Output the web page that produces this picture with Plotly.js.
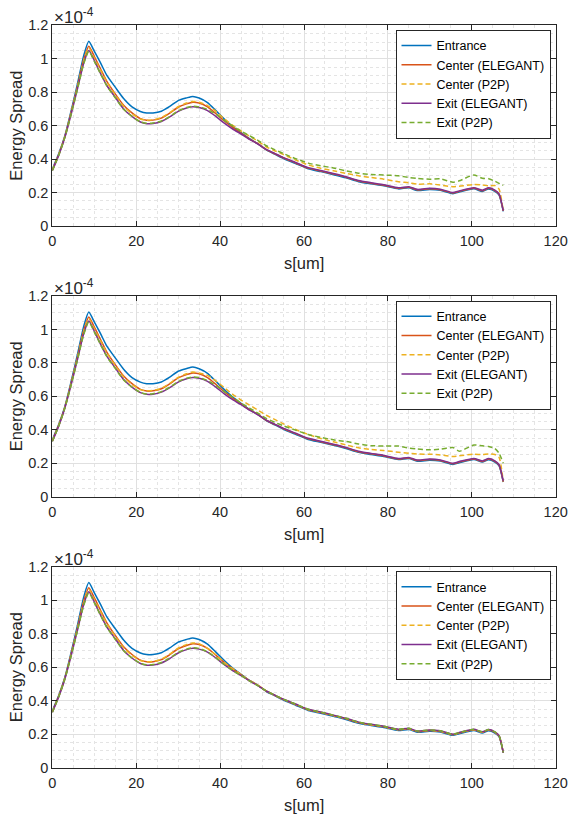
<!DOCTYPE html>
<html>
<head>
<meta charset="utf-8">
<script src="https://cdn.plot.ly/plotly-3.0.1.min.js"></script>
<style>html,body{margin:0;padding:0;background:#fff;}#chart{width:571px;height:816px;}</style>
</head>
<body>
<div id="chart"></div>
<script>
// s [um]
const s = [0,1.5,3,4.5,6,7.5,8.7,10,11.5,13,15,17,19,21,22.5,24,26,28,30,32,33.5,35,
  37,39,41,43,45,47,49,51,53,55,58,61,64,67,70,
  73,76,79,82.5,85,87,90,92.5,95.5,97,100.5,102.5,104,105.5,106.5,107.5];

// Energy spread (x1e-4) - ELEGANT results, shared by all panels
const entrance = [0.34,0.43,0.54,0.69,0.85,1.02,1.105,1.045,0.975,0.9,0.83,0.762,0.712,0.685,0.676,0.676,0.686,0.715,0.75,0.766,0.775,0.765,
  0.738,0.69,0.64,0.595,0.558,0.522,0.492,0.455,0.43,0.405,0.373,0.342,0.325,0.307,0.288,
  0.265,0.252,0.24,0.222,0.228,0.212,0.218,0.213,0.193,0.203,0.222,0.207,0.221,0.207,0.185,0.088];
const centerElegant = [0.335,0.425,0.535,0.68,0.835,0.995,1.075,1.015,0.94,0.865,0.79,0.722,0.676,0.642,0.632,0.633,0.645,0.675,0.71,0.73,0.74,0.735,
  0.712,0.672,0.628,0.59,0.555,0.52,0.492,0.457,0.432,0.408,0.377,0.346,0.329,0.311,0.292,
  0.269,0.256,0.244,0.226,0.232,0.216,0.222,0.217,0.197,0.207,0.226,0.211,0.225,0.211,0.189,0.09];
const exitElegant = [0.33,0.42,0.53,0.67,0.82,0.975,1.05,0.99,0.912,0.84,0.77,0.7,0.655,0.622,0.612,0.613,0.625,0.652,0.685,0.705,0.713,0.708,
  0.69,0.655,0.615,0.58,0.55,0.518,0.49,0.458,0.434,0.41,0.38,0.349,0.332,0.314,0.295,
  0.272,0.259,0.247,0.229,0.235,0.219,0.225,0.22,0.2,0.21,0.229,0.214,0.228,0.214,0.192,0.092];

// P2P results, panel 1
const centerP2P_1 = [0.335,0.425,0.535,0.678,0.83,0.99,1.065,1.005,0.932,0.86,0.785,0.716,0.671,0.64,0.633,0.635,0.648,0.678,0.713,0.735,0.745,0.74,
  0.72,0.685,0.64,0.602,0.568,0.537,0.507,0.473,0.45,0.428,0.395,0.365,0.345,0.33,0.315,
  0.3,0.29,0.28,0.265,0.258,0.25,0.252,0.245,0.235,0.238,0.248,0.245,0.24,0.242,0.22,0.09];
const exitP2P_1 = [0.33,0.42,0.53,0.668,0.818,0.97,1.045,0.985,0.91,0.837,0.767,0.698,0.655,0.623,0.614,0.616,0.628,0.655,0.688,0.708,0.716,0.712,
  0.697,0.668,0.632,0.598,0.567,0.54,0.512,0.48,0.457,0.434,0.403,0.376,0.36,0.347,0.33,
  0.316,0.308,0.305,0.3,0.29,0.284,0.28,0.282,0.262,0.27,0.305,0.285,0.283,0.268,0.255,0.243];
// P2P results, panel 2
const centerP2P_2 = [0.335,0.425,0.535,0.678,0.83,0.99,1.065,1.005,0.932,0.86,0.785,0.716,0.671,0.64,0.633,0.635,0.648,0.678,0.713,0.735,0.745,0.74,
  0.725,0.692,0.652,0.612,0.578,0.548,0.518,0.487,0.462,0.437,0.402,0.372,0.348,0.328,0.31,
  0.292,0.283,0.276,0.266,0.26,0.255,0.254,0.25,0.24,0.245,0.254,0.252,0.256,0.252,0.235,0.09];
const exitP2P_2 = [0.33,0.42,0.53,0.668,0.818,0.97,1.045,0.985,0.91,0.837,0.767,0.698,0.655,0.623,0.614,0.616,0.628,0.655,0.688,0.708,0.716,0.712,
  0.695,0.665,0.628,0.594,0.56,0.53,0.5,0.468,0.445,0.425,0.398,0.372,0.355,0.34,0.33,
  0.315,0.305,0.303,0.303,0.29,0.285,0.28,0.284,0.294,0.272,0.309,0.304,0.3,0.288,0.26,0.2];
// P2P results, panel 3
const centerP2P_3 = [0.335,0.425,0.535,0.678,0.83,0.99,1.065,1.005,0.932,0.86,0.785,0.716,0.671,0.64,0.633,0.635,0.648,0.678,0.713,0.735,0.745,0.74,
  0.712,0.674,0.629,0.591,0.556,0.521,0.493,0.458,0.433,0.409,0.378,0.347,0.33,0.312,0.293,
  0.27,0.257,0.245,0.227,0.233,0.217,0.223,0.218,0.198,0.208,0.227,0.212,0.226,0.212,0.19,0.091];
const exitP2P_3 = [0.33,0.42,0.53,0.668,0.818,0.97,1.045,0.985,0.91,0.837,0.767,0.698,0.655,0.623,0.614,0.616,0.628,0.655,0.688,0.708,0.716,0.712,
  0.692,0.657,0.616,0.58,0.55,0.518,0.49,0.458,0.434,0.41,0.38,0.349,0.332,0.314,0.295,
  0.272,0.259,0.247,0.229,0.235,0.219,0.225,0.22,0.2,0.21,0.229,0.214,0.228,0.214,0.192,0.092];

const seriesNames = ['Entrance','Center (ELEGANT)','Center (P2P)','Exit (ELEGANT)','Exit (P2P)'];
const seriesColors = ['#0072BD','#D95319','#EDB120','#7E2F8E','#77AC30'];
const seriesDash = ['solid','solid','5px,3px','solid','5px,3px'];
const xTitle = 's[um]';
const yTitle = 'Energy Spread';

const panels = [
  [entrance, centerElegant, centerP2P_1, exitElegant, exitP2P_1],
  [entrance, centerElegant, centerP2P_2, exitElegant, exitP2P_2],
  [entrance, centerElegant, centerP2P_3, exitElegant, exitP2P_3]
];

const W = 571, H = 816;
const FONT = 'Arial, "Liberation Sans", Helvetica, sans-serif';
const axLeft = 52.3, axRight = 555.7;
const axTops = [25.3, 296, 566.7], axBottoms = [226, 496.7, 767.7];

const traces = [];
panels.forEach((ser, p) => {
  const sfx = p === 0 ? '' : String(p + 1);
  ser.forEach((ys, i) => {
    traces.push({
      x: s, y: ys, type: 'scatter', mode: 'lines',
      name: seriesNames[i],
      xaxis: 'x' + sfx, yaxis: 'y' + sfx,
      legend: 'legend' + sfx,
      line: {color: seriesColors[i], width: 1.5, dash: seriesDash[i], shape: 'spline', smoothing: 0.6}
    });
  });
});

const layout = {
  width: W, height: H,
  margin: {l: 0, r: 0, t: 0, b: 0},
  paper_bgcolor: '#fff', plot_bgcolor: '#fff',
  font: {family: FONT, size: 14, color: '#262626'},
  showlegend: true,
  annotations: []
};

function xAxis(p) {
  return {
    domain: [axLeft / W, axRight / W],
    anchor: 'y' + (p === 0 ? '' : p + 1),
    range: [0, 120], dtick: 20, tick0: 0,
    showline: true, linecolor: '#262626', linewidth: 1, mirror: 'ticks',
    ticks: 'inside', ticklen: 5, tickcolor: '#262626', tickwidth: 1,
    showgrid: true, gridcolor: '#e0e0e0', gridwidth: 1,
    minor: {dtick: 5, showgrid: true, gridcolor: '#e4e4e4', griddash: 'dot', gridwidth: 1},
    zeroline: false, automargin: false, ticklabelstandoff: 2,
    tickfont: {family: FONT, size: 14.5, color: '#262626'}
  };
}
function yAxis(p) {
  return {
    domain: [1 - axBottoms[p] / H, 1 - axTops[p] / H],
    anchor: 'x' + (p === 0 ? '' : p + 1),
    range: [0, 1.2], dtick: 0.2, tick0: 0,
    showline: true, linecolor: '#262626', linewidth: 1, mirror: 'ticks',
    ticks: 'inside', ticklen: 5, tickcolor: '#262626', tickwidth: 1,
    showgrid: true, gridcolor: '#e0e0e0', gridwidth: 1,
    minor: {dtick: 0.05, showgrid: true, gridcolor: '#e4e4e4', griddash: 'dot', gridwidth: 1},
    zeroline: false, automargin: false,
    tickfont: {family: FONT, size: 14.5, color: '#262626'}
  };
}

for (let p = 0; p < 3; p++) {
  const sfx = p === 0 ? '' : String(p + 1);
  layout['xaxis' + sfx] = xAxis(p);
  layout['yaxis' + sfx] = yAxis(p);
  layout['legend' + sfx] = {
    x: 550.5 / W, y: 1 - (axTops[p] + 4.5) / H, xanchor: 'right', yanchor: 'top',
    xref: 'paper', yref: 'paper',
    bgcolor: '#fff', bordercolor: '#262626', borderwidth: 1,
    font: {family: FONT, size: 12.5, color: '#000'},
    itemwidth: 30, tracegroupgap: 0
  };
  // exponent label
  layout.annotations.push({
    xref: 'paper', yref: 'paper', x: 52 / W, y: 1 - (axTops[p] - 9) / H,
    xanchor: 'left', yanchor: 'middle', showarrow: false,
    text: '×10<sup>-4</sup>', font: {family: FONT, size: 17, color: '#262626'}
  });
  // y title
  layout.annotations.push({
    xref: 'paper', yref: 'paper', x: 16 / W, y: 1 - ((axTops[p] + axBottoms[p]) / 2) / H,
    xanchor: 'center', yanchor: 'middle', showarrow: false, textangle: -90,
    text: yTitle, font: {family: FONT, size: 16.5, color: '#262626'}
  });
  // x title
  layout.annotations.push({
    xref: 'paper', yref: 'paper', x: ((axLeft + axRight) / 2) / W, y: 1 - (axBottoms[p] + 37) / H,
    xanchor: 'center', yanchor: 'middle', showarrow: false,
    text: xTitle, font: {family: FONT, size: 16.5, color: '#262626'}
  });
}

Plotly.newPlot('chart', traces, layout, {staticPlot: true, displayModeBar: false});
</script>
</body>
</html>
